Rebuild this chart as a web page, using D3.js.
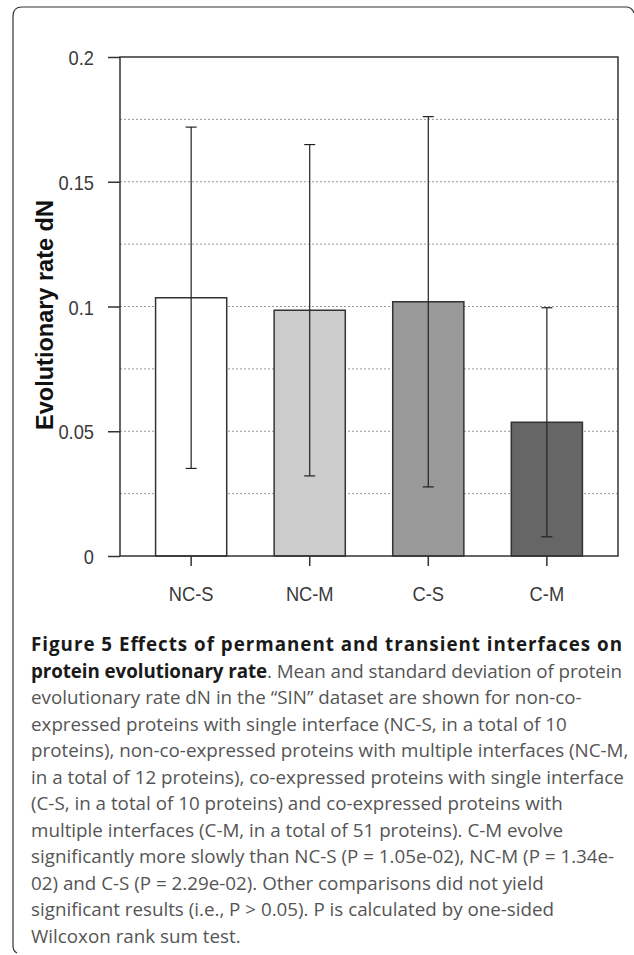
<!DOCTYPE html>
<html>
<head>
<meta charset="utf-8">
<script src="https://cdn.jsdelivr.net/npm/d3@7"></script>
<style>
  body { margin: 0; background: #fff; }
  svg { display: block; }
</style>
</head>
<body>
<svg id="chart" width="634" height="955"></svg>
<script>
// data
var categories = ["NC-S", "NC-M", "C-S", "C-M"];
var means = [0.1035, 0.0985, 0.1019, 0.0536];
var sds = [0.0684, 0.0664, 0.0742, 0.0459];
var fills = ["#ffffff", "#cccccc", "#999999", "#666666"];
var yTicks = [0, 0.05, 0.1, 0.15, 0.2];
var gridValues = [0.025, 0.05, 0.075, 0.1, 0.125, 0.15, 0.175];

var captionLines = [
  [{ t: "Figure 5 Effects of permanent and transient interfaces on", b: true }],
  [{ t: "protein evolutionary rate", b: true }, { t: ". Mean and standard deviation of protein", b: false }],
  [{ t: "evolutionary rate dN in the \u201cSIN\u201d dataset are shown for non-co-" }],
  [{ t: "expressed proteins with single interface (NC-S, in a total of 10" }],
  [{ t: "proteins), non-co-expressed proteins with multiple interfaces (NC-M," }],
  [{ t: "in a total of 12 proteins), co-expressed proteins with single interface" }],
  [{ t: "(C-S, in a total of 10 proteins) and co-expressed proteins with" }],
  [{ t: "multiple interfaces (C-M, in a total of 51 proteins). C-M evolve" }],
  [{ t: "significantly more slowly than NC-S (P = 1.05e-02), NC-M (P = 1.34e-" }],
  [{ t: "02) and C-S (P = 2.29e-02). Other comparisons did not yield" }],
  [{ t: "significant results (i.e., P > 0.05). P is calculated by one-sided" }],
  [{ t: "Wilcoxon rank sum test." }]
];
var justified = [true, true];

var svg = d3.select("#chart");
var plotLeft = 120, plotRight = 618, plotTop = 57, plotBottom = 556;
var axisFont = "'Liberation Sans', Arial, sans-serif";
var squeeze = 0.87;

// frame round the figure
svg.append("path")
  .attr("d", "M634,13 Q632,7 626,7 L22,7 Q13,7 13,16 L13,946 Q13,951 17,953")
  .attr("fill", "none").attr("stroke", "#333").attr("stroke-width", 1.2);

var x = d3.scaleBand().domain(categories).range([plotLeft, plotRight])
  .paddingInner(0.4).paddingOuter(0.3);
var y = d3.scaleLinear().domain([0, 0.2]).range([plotBottom, plotTop]);

// dotted grid
svg.append("g").selectAll("line").data(gridValues).enter().append("line")
  .attr("x1", plotLeft).attr("x2", plotRight)
  .attr("y1", function (d) { return y(d); }).attr("y2", function (d) { return y(d); })
  .attr("stroke", "#999").attr("stroke-width", 1).attr("stroke-dasharray", "2,2");

// bars
svg.append("g").selectAll("rect").data(categories).enter().append("rect")
  .attr("x", function (d) { return x(d); })
  .attr("width", x.bandwidth())
  .attr("y", function (d, i) { return y(means[i]); })
  .attr("height", function (d, i) { return y(0) - y(means[i]); })
  .attr("fill", function (d, i) { return fills[i]; })
  .attr("stroke", "#333").attr("stroke-width", 1.5);

// error bars
var cap = 5.5;
var err = svg.append("g").attr("stroke", "#222").attr("stroke-width", 1.2);
categories.forEach(function (c, i) {
  var cx = x(c) + x.bandwidth() / 2;
  var hi = y(means[i] + sds[i]), lo = y(means[i] - sds[i]);
  err.append("line").attr("x1", cx).attr("x2", cx).attr("y1", hi).attr("y2", lo);
  err.append("line").attr("x1", cx - cap).attr("x2", cx + cap).attr("y1", hi).attr("y2", hi);
  err.append("line").attr("x1", cx - cap).attr("x2", cx + cap).attr("y1", lo).attr("y2", lo);
});

// plot border
svg.append("rect").attr("x", plotLeft).attr("y", plotTop)
  .attr("width", plotRight - plotLeft).attr("height", plotBottom - plotTop)
  .attr("fill", "none").attr("stroke", "#333").attr("stroke-width", 1.5);

// y axis
var yAxis = svg.append("g").attr("transform", "translate(" + plotLeft + ",0)")
  .call(d3.axisLeft(y).tickValues(yTicks).tickSize(12).tickSizeOuter(0)
    .tickFormat(function (d) { return String(+d.toFixed(3)); }));
yAxis.select(".domain").remove();
yAxis.selectAll(".tick line").attr("stroke", "#333").attr("stroke-width", 1.5);
yAxis.selectAll(".tick text")
  .attr("x", null).attr("dy", null)
  .attr("transform", "translate(-26,7.5) scale(" + squeeze + ",1)")
  .style("font-family", axisFont).style("font-size", "21px").attr("fill", "#3a3a3a");

// x axis
var xAxis = svg.append("g").attr("transform", "translate(0," + plotBottom + ")")
  .call(d3.axisBottom(x).tickSize(10).tickSizeOuter(0));
xAxis.select(".domain").remove();
xAxis.selectAll(".tick line").attr("stroke", "#333").attr("stroke-width", 1.5);
xAxis.selectAll(".tick text")
  .attr("y", null).attr("dy", null)
  .attr("transform", "translate(0,44.5) scale(" + squeeze + ",1)")
  .style("font-family", axisFont).style("font-size", "21px").attr("fill", "#3a3a3a");

// y title
svg.append("text")
  .attr("transform", "translate(53,315) rotate(-90)")
  .attr("text-anchor", "middle")
  .style("font-family", axisFont).style("font-weight", "bold").style("font-size", "23.5px")
  .attr("fill", "#111")
  .text("Evolutionary rate dN");

// caption
var capX = 31, capRight = 622, capY = 651, lineH = 26.5;
var capG = svg.append("g")
  .style("font-family", "'Open Sans', 'Noto Sans', sans-serif")
  .style("font-size", "18.8px").attr("fill", "#555");
captionLines.forEach(function (parts, i) {
  var t = capG.append("text").attr("x", capX).attr("y", capY + i * lineH);
  parts.forEach(function (p) {
    t.append("tspan").text(p.t)
      .style("font-weight", p.b ? "bold" : "normal")
      .attr("fill", p.b ? "#1a1a1a" : "#555");
  });
  if (justified[i]) {
    t.attr("textLength", capRight - capX).attr("lengthAdjust", "spacing");
  }
});
</script>
</body>
</html>
